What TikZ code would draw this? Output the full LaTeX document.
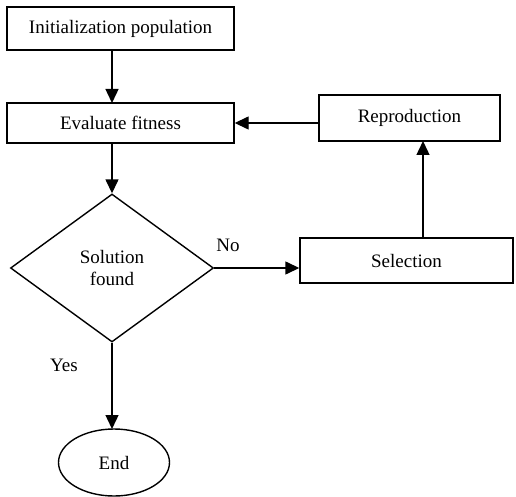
\documentclass[tikz,border=0pt]{standalone}
\usepackage{fontspec}
\setmainfont{Liberation Serif}
\usetikzlibrary{arrows.meta,shapes.geometric}
\begin{document}
\begin{tikzpicture}[x=1pt,y=-1pt,
  every node/.style={font=\fontsize{19}{22}\selectfont},
  box/.style={draw,line width=1.4pt,rectangle,inner sep=0pt},
  arr/.style={line width=1.4pt,-{Triangle[width=13pt,length=14pt]}}]
\useasboundingbox (0,0) rectangle (516,497);
\node[box,minimum width=227pt,minimum height=43pt] (init) at (120.5,28.5) {Initialization population};
\node[box,minimum width=227pt,minimum height=40pt] (eval) at (120.5,123) {Evaluate fitness};
\node[box,minimum width=181pt,minimum height=46pt] (repr) at (409.5,118) {Reproduction};
\node[box,minimum width=213pt,minimum height=45pt] (sel) at (406.5,260.5) {Selection};
\node[draw,line width=1.4pt,diamond,aspect=1.372,inner sep=0pt,minimum width=203pt,minimum height=148pt,align=center,font=\fontsize{19}{22}\selectfont] (dec) at (112,268) {Solution\\found};
\node[draw,line width=1.4pt,ellipse,inner sep=0pt,minimum width=111pt,minimum height=67pt] (end) at (114,462.5) {End};
\coordinate (a1) at (112,50);
\coordinate (a2) at (112,103);
\coordinate (a3) at (112,143);
\coordinate (s1) at (423,238);
\coordinate (s2) at (423,141);
\coordinate (d1) at (112,429);
\draw[arr] (a1) -- (a2);
\draw[arr] (a3) -- (dec.north);
\draw[arr] (dec.east) -- (sel.west |- dec.east);
\draw[arr] (s1) -- (s2);
\draw[arr] (repr.west |- eval.east) -- (eval.east);
\draw[arr] (dec.south) -- (d1);
\node (no) at (228,245) {No};
\node (yes) at (64,365) {Yes};
\end{tikzpicture}
\end{document}
